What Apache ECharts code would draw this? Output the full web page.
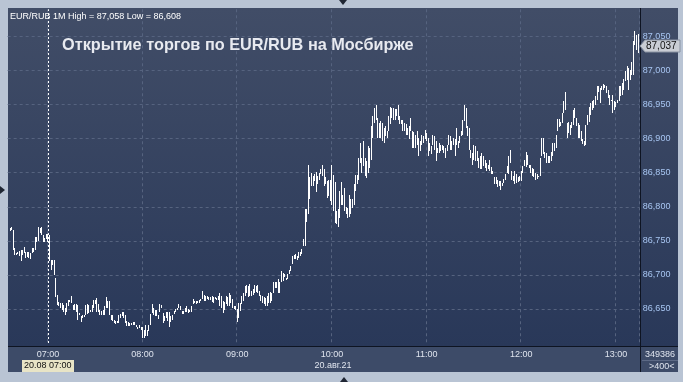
<!DOCTYPE html>
<html><head><meta charset="utf-8">
<script src="https://cdn.jsdelivr.net/npm/echarts@6/dist/echarts.min.js"></script>
<style>html,body{margin:0;padding:0;background:#b9c4d4;}#c{width:683px;height:382px;}</style>
</head><body><div id="c"></div>
<script>
// 1-minute bars, 06:35 .. 13:14 (400 minutes)
const startMinute = 6 * 60 + 35;
const barCount = 400;
const hourLabels = ['07:00','08:00','09:00','10:00','11:00','12:00','13:00'];
const highs = [
null,86.769,86.771,86.766,86.739,86.732,86.733,86.735,86.737,86.737,
86.741,86.733,86.734,86.734,86.732,86.739,86.740,86.755,86.756,86.771,
86.769,86.770,86.759,86.754,86.760,86.760,86.759,86.722,86.722,86.722,
86.695,86.671,86.660,86.659,86.659,86.656,86.651,86.659,86.663,86.663,
86.669,86.656,86.657,86.657,86.656,86.644,86.639,86.641,86.641,86.656,
86.657,86.656,86.649,86.656,86.663,86.663,86.666,86.657,86.649,86.647,
86.649,86.654,86.668,86.661,86.661,86.641,86.641,86.634,86.633,86.633,
86.641,86.642,86.646,86.646,86.641,86.632,86.631,86.629,86.629,86.631,
86.631,86.627,86.624,86.627,86.623,86.624,86.619,86.627,86.619,86.627,
86.642,86.657,86.651,86.649,86.649,86.641,86.657,86.656,86.644,86.639,
86.646,86.646,86.646,86.640,86.641,86.647,86.650,86.652,86.657,86.654,
86.647,86.647,86.652,86.654,86.650,86.649,86.654,86.665,86.662,86.662,
86.662,86.663,86.665,86.676,86.670,86.669,86.669,86.668,86.667,86.669,
86.667,86.667,86.666,86.669,86.673,86.669,86.662,86.660,86.669,86.668,
86.673,86.670,86.664,86.654,86.654,86.650,86.659,86.658,86.669,86.674,
86.684,86.685,86.683,86.686,86.676,86.679,86.685,86.684,86.685,86.676,
86.671,86.669,86.667,86.666,86.669,86.673,86.675,86.674,86.689,86.689,
86.690,86.694,86.689,86.705,86.703,86.701,86.696,86.701,86.707,86.713,
86.728,86.729,86.730,86.727,86.733,86.734,86.738,86.752,86.796,86.796,
86.862,86.843,86.849,86.845,86.848,86.851,86.845,86.850,86.855,86.861,
86.856,86.843,86.838,86.839,86.840,86.862,86.847,86.837,86.794,86.796,
86.823,86.837,86.818,86.828,86.799,86.798,86.818,86.812,86.811,86.833,
86.847,86.847,86.871,86.894,86.872,86.896,86.872,86.867,86.889,86.886,
86.918,86.934,86.945,86.950,86.930,86.923,86.926,86.923,86.916,86.918,
86.911,86.933,86.946,86.945,86.945,86.943,86.943,86.950,86.933,86.927,
86.928,86.923,86.921,86.916,86.918,86.930,86.911,86.910,86.906,86.911,
86.901,86.896,86.906,86.904,86.912,86.908,86.901,86.894,86.889,86.906,
86.904,86.896,86.886,86.894,86.891,86.891,86.889,86.886,86.891,86.906,
86.904,86.896,86.901,86.899,86.916,86.896,86.904,86.911,86.928,86.950,
86.945,86.918,86.916,86.884,86.879,86.891,86.889,86.882,86.872,86.874,
86.879,86.874,86.869,86.864,86.862,86.868,86.859,86.852,86.843,86.843,
86.840,86.838,86.838,86.835,86.841,86.848,86.860,86.875,86.884,86.852,
86.845,86.852,86.848,86.843,86.845,86.852,86.860,86.869,86.881,86.876,
86.862,86.862,86.857,86.856,86.850,86.848,86.845,86.872,86.901,86.901,
86.881,86.879,86.874,86.874,86.881,86.894,86.894,86.906,86.929,86.929,
86.925,86.938,86.955,86.969,86.923,86.925,86.920,86.925,86.942,86.945,
86.930,86.923,86.920,86.911,86.899,86.896,86.920,86.935,86.947,86.952,
86.955,86.957,86.962,86.977,86.977,86.974,86.977,86.980,86.979,86.977,
86.972,86.964,86.957,86.964,86.955,86.954,86.957,86.977,86.977,86.982,
86.988,86.999,87.006,87.004,87.001,87.013,87.043,87.058,87.052,87.053
];
const lows = [
null,86.765,86.766,86.737,86.729,86.729,86.730,86.728,86.720,86.729,
86.732,86.725,86.726,86.725,86.723,86.732,86.733,86.737,86.749,86.750,
86.761,86.759,86.749,86.749,86.753,86.749,86.720,86.707,86.715,86.700,
86.668,86.656,86.654,86.651,86.649,86.646,86.641,86.646,86.654,86.660,
86.659,86.649,86.649,86.646,86.634,86.641,86.631,86.637,86.638,86.641,
86.642,86.644,86.645,86.646,86.651,86.657,86.646,86.646,86.641,86.641,
86.641,86.641,86.651,86.651,86.641,86.634,86.632,86.629,86.628,86.629,
86.629,86.637,86.640,86.637,86.629,86.625,86.625,86.625,86.627,86.627,
86.627,86.623,86.621,86.622,86.619,86.607,86.607,86.610,86.611,86.617,
86.627,86.644,86.641,86.640,86.639,86.635,86.646,86.651,86.629,86.633,
86.637,86.632,86.623,86.631,86.634,86.642,86.645,86.649,86.652,86.649,
86.642,86.642,86.646,86.645,86.644,86.645,86.646,86.657,86.658,86.657,
86.658,86.659,86.662,86.664,86.662,86.662,86.664,86.663,86.663,86.660,
86.659,86.664,86.663,86.663,86.654,86.652,86.644,86.649,86.657,86.655,
86.654,86.658,86.652,86.650,86.649,86.631,86.636,86.647,86.657,86.662,
86.669,86.674,86.667,86.669,86.669,86.671,86.674,86.675,86.673,86.669,
86.662,86.658,86.657,86.655,86.654,86.659,86.658,86.662,86.673,86.681,
86.681,86.674,86.674,86.690,86.691,86.697,86.692,86.694,86.701,86.706,
86.716,86.723,86.723,86.722,86.725,86.727,86.730,86.742,86.742,86.777,
86.789,86.811,86.830,86.831,86.838,86.822,86.833,86.839,86.848,86.845,
86.831,86.833,86.813,86.816,86.808,86.803,86.794,86.776,86.774,86.770,
86.784,86.803,86.803,86.794,86.789,86.783,86.785,86.790,86.798,86.803,
86.823,86.833,86.840,86.864,86.850,86.860,86.845,86.842,86.850,86.857,
86.869,86.901,86.923,86.928,86.901,86.901,86.901,86.896,86.894,86.904,
86.901,86.911,86.922,86.930,86.928,86.928,86.933,86.927,86.921,86.921,
86.911,86.911,86.906,86.906,86.899,86.911,86.886,86.886,86.886,86.891,
86.874,86.882,86.891,86.894,86.899,86.896,86.874,86.882,86.877,86.891,
86.884,86.867,86.879,86.879,86.882,86.884,86.879,86.872,86.882,86.891,
86.884,86.884,86.891,86.874,86.891,86.886,86.894,86.904,86.906,86.926,
86.916,86.904,86.884,86.872,86.862,86.869,86.867,86.867,86.857,86.855,
86.855,86.860,86.857,86.852,86.855,86.852,86.848,86.848,86.834,86.833,
86.829,86.830,86.825,86.831,86.835,86.840,86.850,86.848,86.864,86.840,
86.838,86.833,86.835,86.837,86.838,86.838,86.850,86.860,86.858,86.862,
86.857,86.850,86.845,86.843,86.840,86.841,86.843,86.845,86.875,86.877,
86.872,86.864,86.864,86.864,86.867,86.874,86.882,86.886,86.911,86.917,
86.918,86.923,86.938,86.942,86.901,86.908,86.906,86.916,86.920,86.930,
86.918,86.901,86.901,86.896,86.892,86.889,86.891,86.920,86.925,86.935,
86.942,86.945,86.950,86.957,86.969,86.952,86.972,86.972,86.974,86.967,
86.960,86.950,86.955,86.938,86.942,86.947,86.952,86.955,86.962,86.964,
86.972,86.984,86.986,86.972,86.986,86.994,86.994,87.037,87.030,87.026
];
const lastPrice = 87.037;
const headerText = 'EUR/RUB 1M High = 87,058 Low = 86,608';
const titleText = 'Открытие торгов по EUR/RUB на Мосбирже';

const pad = n => (n < 10 ? '0' : '') + n;
const categories = [];
for (let k = 0; k < barCount; k++) {
  const m = startMinute + k;
  categories.push(pad(Math.floor(m / 60)) + ':' + pad(m % 60));
}
const barData = [];
highs.forEach((h, i) => { if (h != null) barData.push([i, lows[i], h]); });

const chart = echarts.init(document.getElementById('c'), null, {renderer: 'canvas', width: 683, height: 382});
const FONT = 'Liberation Sans';
const gridCol = '#56637f';
const isHour = (i, v) => hourLabels.indexOf(v) >= 0;

function renderBar(params, api) {
  const lo = api.coord([api.value(0), api.value(1)]);
  const hi = api.coord([api.value(0), api.value(2)]);
  const x = Math.round(lo[0] - 0.5);
  const top = Math.round(hi[1]);
  const h = Math.max(1, Math.round(lo[1]) - top);
  return {type: 'rect', shape: {x: x, y: top, width: 1, height: h}, style: {fill: '#ffffff'}};
}

chart.setOption({
  animation: false,
  backgroundColor: '#b9c4d4',
  grid: {left: 7.66, width: 631.2, top: 9.25, height: 333.75},
  xAxis: {
    type: 'category', data: categories, boundaryGap: true,
    axisLine: {show: false}, axisTick: {show: false},
    axisLabel: {interval: isHour, color: '#dfe4ee', fontSize: 9, fontFamily: FONT, margin: 7},
    splitLine: {show: true, interval: isHour, lineStyle: {color: gridCol, type: [3, 3], width: 1}}
  },
  yAxis: {
    type: 'value', position: 'right', min: 86.60, max: 87.09, interval: 0.05,
    axisLine: {show: false}, axisTick: {show: false},
    axisLabel: {color: '#a8c6f2', fontSize: 9, fontFamily: FONT, margin: 4,
      showMinLabel: false, showMaxLabel: false,
      formatter: v => v.toFixed(3).replace('.', ',')},
    splitLine: {show: true, showMinLine: false, showMaxLine: false,
      lineStyle: {color: gridCol, type: [3, 3], width: 1}}
  },
  series: [{
    type: 'custom', data: barData, renderItem: renderBar,
    encode: {x: 0, y: [1, 2]}, z: 3,
    markLine: {silent: true, symbol: 'none', label: {show: false},
      lineStyle: {color: '#ffffff', type: [2, 2], width: 1},
      data: [{xAxis: '07:00'}]}
  }],
  graphic: [
    {type: 'rect', z: -10, shape: {x: 8, y: 8, width: 632, height: 338},
     style: {fill: new echarts.graphic.LinearGradient(0, 0, 0, 1, [{offset: 0, color: '#414d67'}, {offset: 1, color: '#293859'}])}},
    {type: 'rect', z: -10, shape: {x: 640, y: 8, width: 38, height: 338},
     style: {fill: new echarts.graphic.LinearGradient(0, 0, 0, 1, [{offset: 0, color: '#414d67'}, {offset: 1, color: '#293859'}])}},
    {type: 'rect', z: -10, shape: {x: 8, y: 346, width: 670, height: 26}, style: {fill: '#3d4b68'}},
    {type: 'line', z: 5, shape: {x1: 8, y1: 346.5, x2: 678, y2: 346.5}, style: {stroke: '#0e1422', lineWidth: 1}},
    {type: 'line', z: 5, shape: {x1: 640.5, y1: 8, x2: 640.5, y2: 372}, style: {stroke: '#0e1422', lineWidth: 1}},
    {type: 'line', z: 5, shape: {x1: 642, y1: 360.5, x2: 678, y2: 360.5}, style: {stroke: '#5d6a86', lineWidth: 1}},
    {type: 'text', z: 5, x: 10, y: 12, style: {text: headerText, fill: '#ffffff', font: '9px "Liberation Sans"'}},
    {type: 'text', z: 5, x: 62, y: 38, style: {text: titleText, fill: '#e8eaf0', font: 'bold 16.3px "Liberation Sans"'}},
    {type: 'polygon', z: 5, shape: {points: [[640, 46], [645, 40], [680, 40], [680, 52], [645, 52]]},
     style: {fill: '#c9cdd4', stroke: '#8a93a3', lineWidth: 1}},
    {type: 'text', z: 6, x: 646, y: 41, style: {text: lastPrice.toFixed(3).replace('.', ','), fill: '#111111', font: '10px "Liberation Sans"'}},
    {type: 'text', z: 5, x: 645, y: 350, style: {text: '349386', fill: '#dfe4ee', font: '9px "Liberation Sans"'}},
    {type: 'text', z: 5, x: 649, y: 362, style: {text: '>400<', fill: '#dfe4ee', font: '9px "Liberation Sans"'}},
    {type: 'rect', z: 5, shape: {x: 22, y: 360, width: 52, height: 12}, style: {fill: '#e8e4c6'}},
    {type: 'text', z: 6, x: 24, y: 361, style: {text: '20.08 07:00', fill: '#111111', font: '9px "Liberation Sans"'}},
    {type: 'text', z: 5, x: 333, y: 361, style: {text: '20.авг.21', fill: '#dfe4ee', font: '9px "Liberation Sans"', align: 'center'}},
    {type: 'polygon', z: 5, shape: {points: [[339, 0], [347, 0], [343, 5]]}, style: {fill: '#1f2633'}},
    {type: 'polygon', z: 5, shape: {points: [[0, 186], [0, 194], [5, 190]]}, style: {fill: '#1f2633'}},
    {type: 'polygon', z: 5, shape: {points: [[340, 382], [348, 382], [344, 377]]}, style: {fill: '#1f2633'}}
  ]
});
</script>
</body></html>
